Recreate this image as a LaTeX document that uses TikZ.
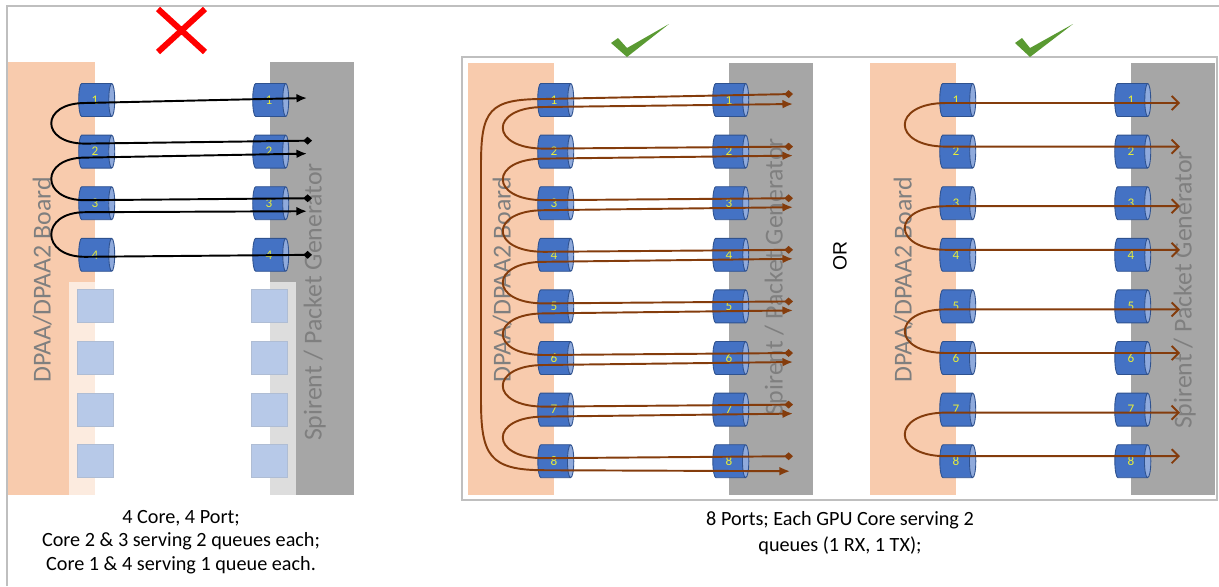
\documentclass[tikz,border=0pt]{standalone}
\usepackage{fontspec}
\setmainfont{Carlito}
\newfontfamily\orfont{Liberation Sans}
\usetikzlibrary{shapes.geometric,arrows.meta,calc}
\definecolor{DPOrange}{HTML}{F8CBAD}
\definecolor{DPGrey}{HTML}{A6A6A6}
\definecolor{DPText}{HTML}{7F7F7F}
\definecolor{DPFrame}{HTML}{BFBFBF}
\definecolor{QBlue}{HTML}{4472C4}
\definecolor{QEdge}{HTML}{2F528F}
\definecolor{QEnd}{HTML}{8FAADC}
\definecolor{QNum}{HTML}{E6EC3C}
\definecolor{FlowBrown}{HTML}{843C0C}
\definecolor{OkGreen}{HTML}{5A9A32}
\tikzset{
  queue/.style={cylinder,shape border rotate=0,aspect=0.7,draw=QEdge,line width=0.5pt,
    cylinder uses custom fill,cylinder body fill=QBlue,cylinder end fill=QEnd,
    minimum width=0.66cm,minimum height=0.72cm,inner sep=0pt,
    font=\fontsize{7.5}{8}\selectfont,text=QNum},
  bigtext/.style={rotate=90,anchor=base,text=DPText,font=\fontsize{14.7}{17}\selectfont},
  blackflow/.style={draw=black,line width=1.1pt,
    {Diamond[length=5pt,width=4.5pt]}-{Latex[length=6pt,width=5pt]}},
  brownflow/.style={draw=FlowBrown,line width=1.1pt,
    {Diamond[length=5pt,width=4.5pt]}-{Latex[length=6pt,width=5pt]}},
  openflow/.style={draw=FlowBrown,line width=1.1pt,
    {Straight Barb[length=4pt,width=8pt]}-{Straight Barb[length=4pt,width=8pt]}},
  caption/.style={align=center,font=\fontsize{11.5}{13.5}\selectfont}
}

\begin{document}
\begin{tikzpicture}[x=0.02cm,y=-0.02cm]
\path[use as bounding box] (0,0) rectangle (1219,586);
% frames
\draw[DPFrame,line width=1pt] (7,586) -- (7,6) -- (1219,6);
\draw[DPFrame,line width=1.2pt] (462,57) rectangle (1217,500);
% boards and generators
\fill[DPOrange] (8,62) rectangle (95,495);
\fill[DPGrey] (270,62) rectangle (354,495);
\fill[DPOrange] (468,63) rectangle (554,495);
\fill[DPGrey] (729,63) rectangle (813,495);
\fill[DPOrange] (870,63) rectangle (956,495);
\fill[DPGrey] (1131,63) rectangle (1215,495);
\node[bigtext] (lboard) at (50.5,280) {DPAA/DPAA2 Board};
\node[bigtext] (lgen) at (321.5,302) {Spirent / Packet Generator};
\node[bigtext] (mboard) at (510.5,280) {DPAA/DPAA2 Board};
\node[bigtext] (mgen) at (782.5,277) {Spirent / Packet Generator};
\node[bigtext] (rboard) at (911.5,280) {DPAA/DPAA2 Board};
\node[bigtext] (rgen) at (1191.5,290) {Spirent / Packet Generator};

% queues
\foreach \i [evaluate=\i as \yy using 100+51.6*(\i-1)] in {1,...,4} {
  \node[queue] (Lc\i) at (95,\yy) {\i};
  \node[queue] (Ls\i) at (269,\yy) {\i};
}
\foreach \i [evaluate=\i as \yy using 100+51.6*(\i-1)] in {5,...,8} {
  \node[queue] (Lc\i) at (95,\yy) {};
  \node[queue] (Ls\i) at (269,\yy) {};
}
\fill[white,fill opacity=0.62] (69,282) rectangle (296,495);
\foreach \i [evaluate=\i as \yy using 100+51.6*(\i-1)] in {1,...,8} {
  \node[queue] (Mc\i) at (554,\yy) {\i};
  \node[queue] (Ms\i) at (729,\yy) {\i};
  \node[queue] (Rc\i) at (956,\yy) {\i};
  \node[queue] (Rs\i) at (1131,\yy) {\i};
}

% left: 4 core, 4 port
\draw[blackflow] ($(Ls2)+(43,-11)$) -- ($(Lc2)+(-10,-8)$) .. controls +(-45,0) and +(-45,0) .. ($(Lc1)+(-10,3)$) -- ($(Ls1)+(38,-2)$);
\draw[blackflow] ($(Ls3)+(43,-5)$) -- ($(Lc3)+(-10,-3)$) .. controls +(-45,0) and +(-45,0) .. ($(Lc2)+(-10,6)$) -- ($(Ls2)+(38,2)$);
\draw[blackflow] ($(Ls4)+(43,0)$) -- ($(Lc4)+(-10,2)$) .. controls +(-45,0) and +(-45,0) .. ($(Lc3)+(-10,9)$) -- ($(Ls3)+(38,8)$);

% middle: 8 ports, chained
\foreach \k [evaluate=\k as \n using int(\k+1)] in {1,...,7}
  \draw[brownflow] ($(Ms\n)+(64,-5)$) -- ($(Mc\n)+(-10,-3)$) .. controls +(-55,0) and +(-55,0) .. ($(Mc\k)+(-10,7)$) -- ($(Ms\k)+(64,4)$);
\coordinate (bigtop) at (481,165);
\coordinate (bigbot) at (481,400);
\draw[brownflow] ($(Ms1)+(64,-6)$) -- ($(Mc1)+(-10,-1)$) .. controls +(-55,0) and +(0,-55) .. (bigtop) -- (bigbot) .. controls +(0,55) and +(-55,0) .. ($(Mc8)+(-10,9)$) -- ($(Ms8)+(61,10)$);

% right: paired ports
\foreach \a/\b in {1/2,3/4,5/6,7/8}
  \draw[openflow] ($(Rs\a)+(49,3)$) -- ($(Rc\a)+(-10,3)$) .. controls +(-55,0) and +(-55,0) .. ($(Rc\b)+(-10,-5)$) -- ($(Rs\b)+(49,-5)$);

\node[rotate=90,font=\orfont\fontsize{11}{12}\selectfont] (orlabel) at (840,256) {OR};

% marks
\draw[red,line width=3.4pt] (158,9) -- (205,52) (158,52) -- (205,9);
\fill[OkGreen] (611,43) -- (618,38) -- (627,48) -- (669,24) -- (627,57) -- cycle;
\fill[OkGreen] (1015,43) -- (1022,38) -- (1030,48) -- (1073,24) -- (1030,57) -- cycle;

% captions
\node[caption] (lcap) at (181,542) {4 Core, 4 Port;\\Core 2 \& 3 serving 2 queues each;\\Core 1 \& 4 serving 1 queue each.};
\node[caption,font=\fontsize{11.5}{14.5}\selectfont] (mcap) at (840,533) {8 Ports; Each GPU Core serving 2\\queues (1 RX, 1 TX);};
\end{tikzpicture}
\end{document}
